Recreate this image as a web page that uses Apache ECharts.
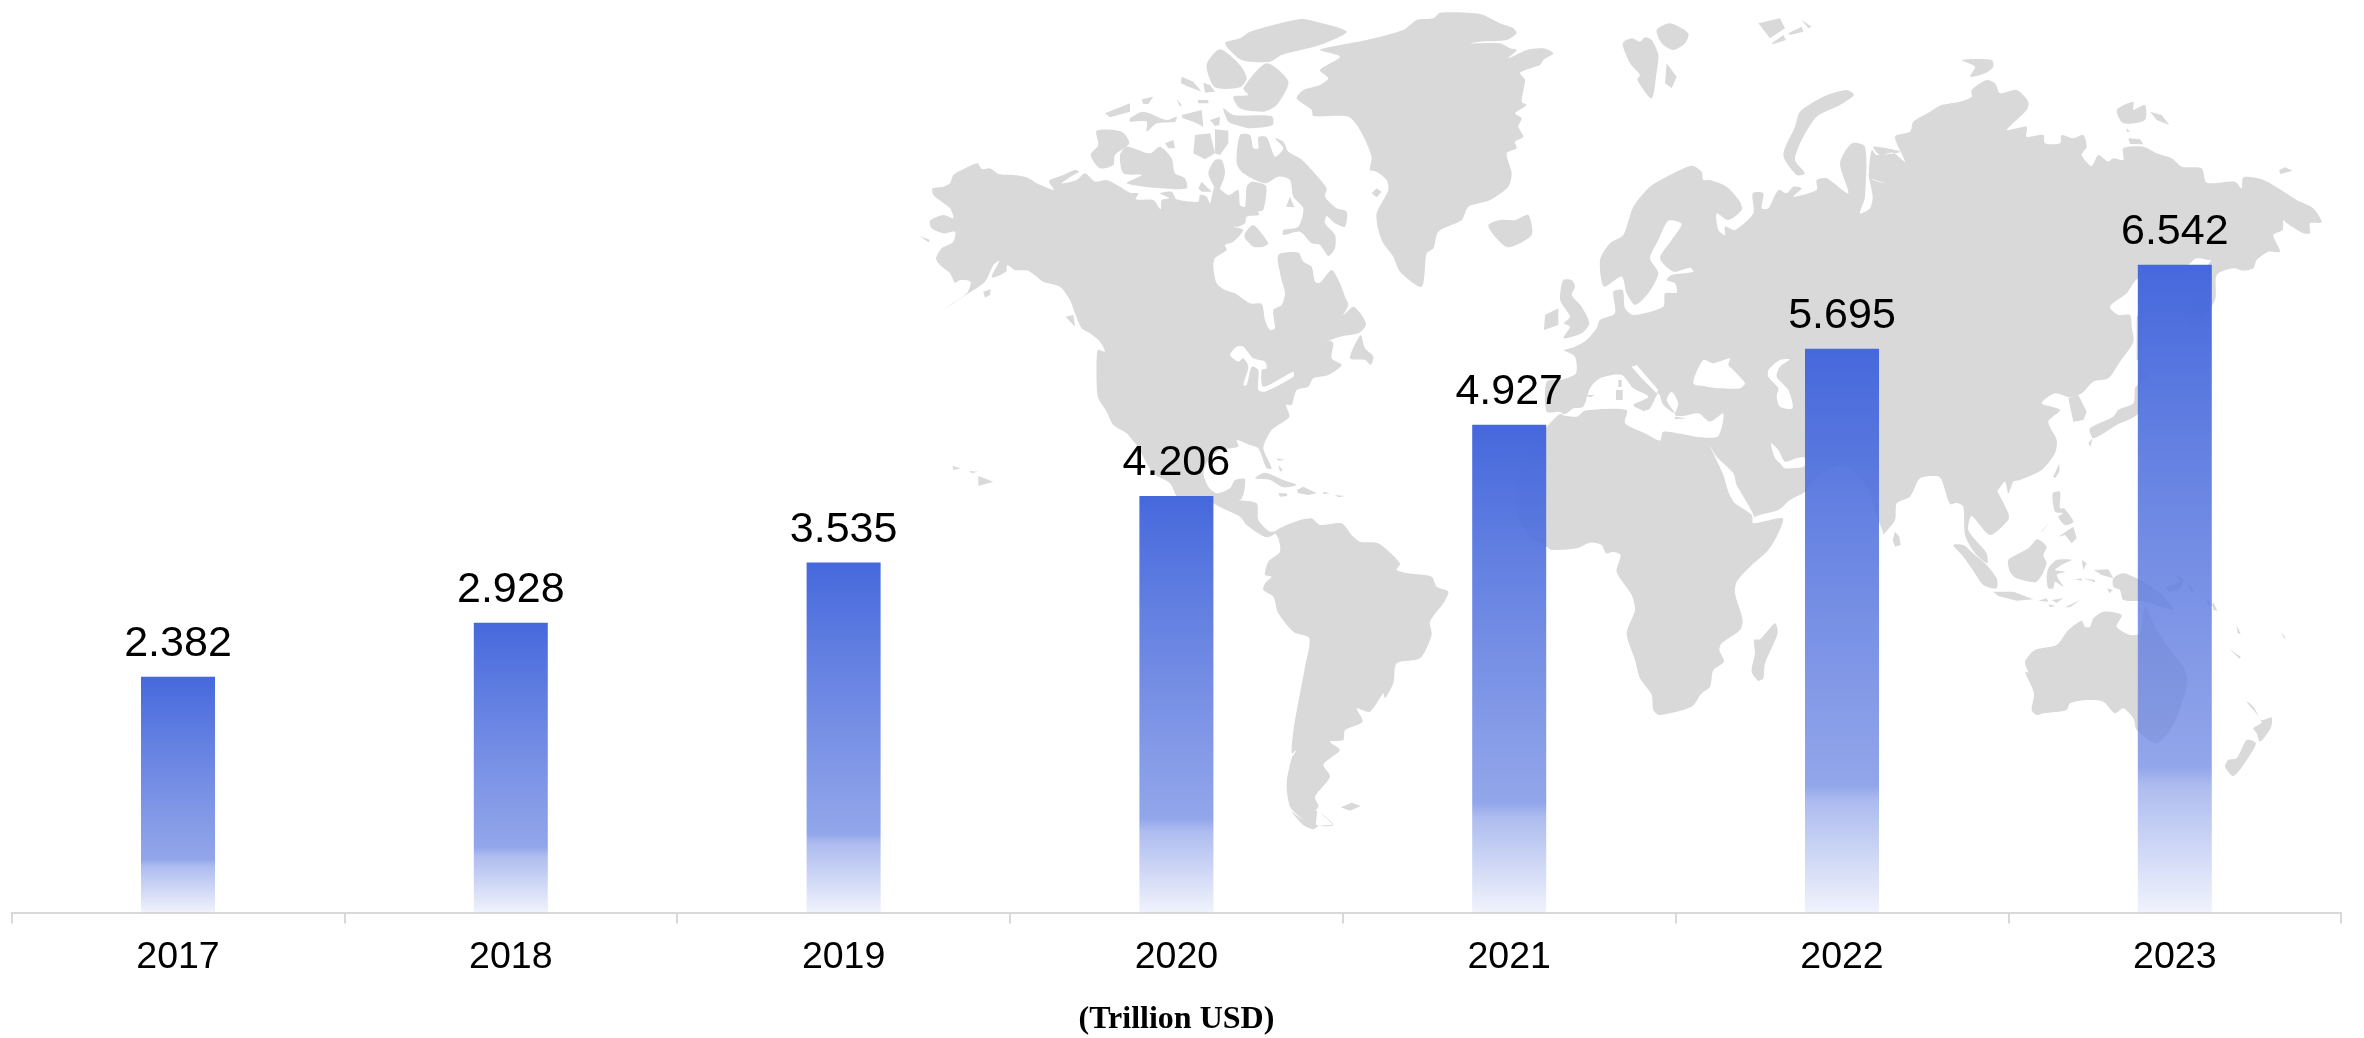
<!DOCTYPE html>
<html><head><meta charset="utf-8">
<style>html,body{margin:0;padding:0;background:#fff}#c{width:2364px;height:1038px}</style>
<script src="https://cdn.jsdelivr.net/npm/echarts@6/dist/echarts.min.js"></script>
</head><body><div id="c"></div>
<script>
const years = ['2017','2018','2019','2020','2021','2022','2023'];
const values = [2.382,2.928,3.535,4.206,4.927,5.695,6.542];
const axisName = '(Trillion USD)';

// decorative world-map backdrop, traced outlines (crop origin + 3x crop coordinates)
const F4=[900,0],F5=[950,400],F6=[1400,0],F7=[1450,350],F8=[1860,60],F9=[1900,480];
const seg=(f,s)=>s.trim().split(/\s+/).map(p=>{const [x,y]=p.split(',').map(Number);return [f[0]+x/3,f[1]+y/3];});
const land=[
 // North America
 seg(F4,`98,565 130,560 150,550 160,525 190,508 232,490 245,507 270,505 295,522 340,525 380,532 410,550 445,565 462,570 447,543 490,525 525,510 538,515 520,525 485,550 530,540 555,520 585,545 620,540 660,560 690,578 715,580 708,598 760,600 782,628 785,600 808,595 780,580 815,575 830,598 895,605 900,585 920,590 930,610 945,560 985,585 1015,570 1020,615 1035,620 1040,560 1055,545 1098,558 1090,630 1075,635 1078,645 1040,650 1035,670 1015,680 1000,680 1030,690 1000,725 975,735 980,750 945,775 940,800 950,850 975,870 1005,880 1050,910 1085,912 1095,960 1110,990 1125,985 1120,930 1145,915 1155,880 1145,840 1135,765 1195,758 1210,785 1235,800 1245,845 1260,848 1295,810 1320,850 1335,890 1345,915 1330,945 1360,920 1385,945 1398,975 1375,1000 1320,1010 1240,1040 1290,1022 1300,1030 1295,1075 1325,1095 1285,1125 1240,1135 1225,1160 1190,1170 1175,1215 1158,1215 1168,1250 1120,1285 1105,1305 1090,1345 1115,1405 1100,1405 1075,1345 1050,1335 1010,1320 1015,1340 960,1350 925,1380 910,1420 925,1460 950,1480 990,1465 1005,1440 1035,1438 1020,1500 840,1500 810,1450 760,1420 720,1350 708,1305 715,1340 680,1300 640,1275 620,1235 595,1195 590,1150 593,1050 615,1055 600,1025 570,1000 545,985 525,940 510,900 480,860 430,845 385,812 345,810 322,795 318,815 275,832 298,783 280,795 255,845 205,880 122,935 150,915 200,880 212,845 180,840 165,848 150,820 120,795 108,775 125,745 160,725 165,695 130,700 95,685 90,662 130,645 160,655 150,625 100,585`),
 seg(F4,`1350,1075 1382,1005 1395,1045 1420,1070 1412,1095 1395,1080`),
 seg(F4,`497,950 520,945 525,980`),
 seg(F4,`250,875 272,868 270,885 255,893`),
 seg(F4,`60,708 90,720 85,727`),
 seg(F4,`235,1428 280,1445 235,1458`),
 seg(F4,`158,1398 182,1405 160,1410`),
 seg(F4,`208,1413 235,1415 215,1420`),
 // Arctic Canada
 seg(F4,`1020,405 1050,405 1060,445 1075,445 1075,412 1100,412 1125,470 1150,445 1125,415 1150,425 1165,455 1200,475 1240,515 1280,565 1275,590 1310,625 1340,635 1335,680 1305,670 1280,648 1275,670 1305,705 1305,745 1285,768 1260,735 1235,730 1200,695 1150,705 1150,690 1195,680 1210,625 1180,590 1170,540 1135,530 1095,550 1030,520 1010,490`),
 seg(F4,`1035,700 1060,675 1105,730 1090,740 1060,740 1035,715`),
 seg(F4,`975,130 1020,115 1050,95 1200,57 1250,65 1340,95 1260,135 1145,165 1110,185 1025,180`),
 seg(F4,`960,148 1020,195 1040,235 1020,262 945,262 920,195`),
 seg(F4,`1030,265 1100,190 1165,245 1130,315 1090,335 1020,325 1000,290 1045,285`),
 seg(F4,`970,325 1000,345 1115,348 1118,375 1050,385 1010,375 985,365`),
 seg(F4,`590,392 665,395 688,430 645,465 640,495 600,505 572,465 595,435`),
 seg(F4,`660,465 680,440 750,460 780,440 815,475 825,520 855,535 860,565 780,565 680,550 725,525 670,520`),
 seg(F4,`690,355 730,335 800,360 830,350 825,365 770,370 740,395 740,365 690,365`),
 seg(F4,`615,340 690,310 690,335 630,352`),
 seg(F4,`725,298 760,290 745,312 730,312`),
 seg(F4,`845,345 905,330 910,380 880,365 848,355`),
 seg(F4,`930,360 960,350 958,375 945,378`),
 seg(F4,`885,405 930,400 945,460 915,478 880,460`),
 seg(F4,`945,388 985,392 985,430 960,465 945,460`),
 seg(F4,`925,520 945,480 965,480 975,520 955,575 945,565`),
 seg(F4,`895,565 905,545 935,575 905,575`),
 seg(F4,`795,430 820,420 825,445 805,445`),
 seg(F4,`845,230 880,245 905,275 860,258 843,250`),
 seg(F4,`910,248 930,255 945,275 915,278`),
 seg(F4,`893,300 925,300 925,310 895,310`),
 seg(F4,`830,298 845,315 840,320`),
 // Greenland, Iceland, Svalbard, etc.
 seg(F6,`10,90 50,60 100,55 120,38 240,42 300,70 340,85 350,100 320,120 240,125 210,130 300,130 330,145 350,150 325,175 380,150 430,145 460,160 430,180 420,195 360,218 375,240 365,305 380,315 345,340 365,355 355,380 370,410 345,425 350,445 320,460 335,520 325,560 270,600 205,620 185,660 115,695 100,745 80,760 65,860 0,815 -20,770 -50,730 -65,690 -70,640 -35,570 -40,540 -70,515 -90,510 -85,470 -120,390 -155,350 -260,348 -265,330 -310,295 -290,270 -240,255 -215,235 -240,210 -180,170 -240,150 -180,135 -100,120`),
 seg(F4,`1415,580 1430,565 1445,575 1430,592`),
 seg(F6,`265,675 300,660 345,660 385,645 395,705 325,742 285,710`),
 seg(F6,`668,130 695,115 720,125 735,112 755,120 775,165 770,215 755,295 712,240 720,225 690,190`),
 seg(F6,`770,90 810,70 865,100 855,130 820,150 785,130`),
 seg(F6,`800,190 830,230 815,265 795,250`),
 seg(F6,`1075,70 1140,55 1155,85 1110,115`),
 seg(F6,`1165,100 1205,80 1210,95 1170,105`),
 seg(F6,`1115,130 1150,105 1158,120 1120,132`),
 seg(F6,`1205,60 1235,80 1225,85`),
 seg(F6,`1150,465 1185,380 1200,335 1270,290 1340,270 1362,285 1320,315 1250,350 1205,420 1185,480 1215,520 1190,525`),
 seg(F6,`480,885 490,840 515,840 525,860 515,885 545,920 568,970 545,1000 490,1015 510,980 492,970 510,950 482,905`),
 seg(F6,`435,945 475,925 475,975 432,990`),
 // Eurasia + Africa outer outline
 [...seg(F6,`490,1050 525,1040 560,1020 590,985 600,960 645,940 640,875 668,870 675,925 700,945 790,920 795,880 830,878 825,850 800,840 815,825 880,815 870,803 820,815 780,775 815,720 845,672 805,662 775,720 750,775 775,820 745,880 705,915 680,880 665,830 612,860 600,780 630,730 670,705 700,620 750,560 810,525 875,497 905,515 910,540 930,540 980,560 1020,605 1025,630 985,660 950,640 955,690 975,705 975,680 1005,690 1060,640 1058,580 1090,580 1085,625 1105,625 1135,570 1160,580 1180,560 1205,565 1180,590 1250,570 1250,540 1280,535 1345,580 1320,490 1355,430 1395,440 1395,590 1380,640 1410,625 1418,590 1405,520 1420,540 1460,550 1410,530 1415,450 1430,465 1500,455`),
  ...seg(F8,`40,260 60,285 100,278 135,305 105,230 150,215 160,185 210,155 245,135 300,125 335,110 335,90 380,60 405,70 420,100 470,90 505,125 500,150 440,210 470,205 500,200 500,230 550,225 555,250 600,250 605,225 640,235 670,225 680,260 665,285 695,318 715,285 745,305 760,295 790,300 790,265 850,260 890,280 935,295 965,320 1025,325 1040,368 1125,365 1145,385 1150,352 1205,358 1255,385 1310,420 1360,445 1385,487 1350,490 1350,520 1330,520 1280,490 1270,480 1268,510 1240,525 1260,575 1225,575 1190,600 1180,625 1150,632 1120,625 1070,645 1065,720 1000,810 975,770 1020,700 1040,620 1080,572 1060,600 1010,595 985,615 960,640 835,655 800,700 750,740 775,765 810,765 815,800 820,845 780,905 745,955 700,965 665,1000 630,1012 585,1000 545,1030 600,1050 565,1085 590,1140 585,1180 545,1230 480,1260 460,1265 445,1300 435,1265 410,1295`),
  ...seg(F9,`290,30 325,100 325,120 270,165 215,108 205,150 240,195 260,220 262,250 225,220 195,165 190,80 170,68 150,72 125,0`),
  ...seg(F8,`232,1248 180,1255 150,1310 110,1330 105,1380 70,1425`),
  ...seg(F7,`1302,555 1285,510 1245,400 1180,345 1100,380 1065,425 1020,450 985,480 915,500 910,520 998,505 985,550 955,600 900,650 860,695 855,730 878,810 870,840 815,880 808,900 822,935 790,960 780,1010 755,1030 725,1070 628,1095 610,1080 605,1035 570,985 555,930 530,850 555,780 545,735 500,665 512,615 490,605 468,610 455,585 420,578 380,595 305,600 290,590 240,560 200,490 205,380 290,232 325,195 340,190 325,185 290,185 290,95 340,88 378,70 375,20 340,0`)],
 seg(F8,`625,1015 655,1005 680,1055 670,1080 640,1085`),
 // Africa / Asia islands
 seg(F7,`912,870 930,868 975,820 983,850 945,940 940,985 925,992 905,965 915,910`),
 seg(F7,`1335,545 1348,560 1352,585 1335,590 1328,570`),
 seg(F8,`580,1250 598,1210 598,1235 585,1255`),
 seg(F8,`690,1105 760,1070 775,1050 820,1030 825,985 835,975 835,1060 770,1095 700,1135`),
 seg(F8,`685,1150 697,1135 692,1160`),
 seg(F8,`835,905 870,950 835,975`),
 seg(F8,`830,770 850,740 840,900 830,900`),
 seg(F8,`770,150 820,125 820,150 855,135 855,180 790,190`),
 seg(F8,`870,155 905,165 928,195 890,180`),
 seg(F8,`800,205 810,215 800,215`),
 seg(F8,`805,235 840,238 850,253 810,252`),
 seg(F8,`1258,330 1275,322 1298,332 1260,342`),
 seg(F8,`305,0 395,0 400,20 375,40 330,50 345,20`),
 seg(F9,`458,40 480,35 480,85 492,85 520,125 495,135 475,110 490,100 465,95`),
 seg(F9,`475,170 520,140 530,175 515,190 495,165`),
 seg(F9,`420,158 450,125 430,150`),
 seg(F9,`160,195 190,195 225,225 255,250 290,295 290,325 250,315 215,265 190,230`),
 seg(F9,`280,335 340,335 400,358 350,362 295,348`),
 seg(F9,`325,240 385,205 412,178 440,200 430,225 440,250 410,305 350,295 330,275`),
 seg(F9,`445,265 470,240 515,240 490,252 465,270 495,275 470,285 490,320 465,305 460,325 445,325 440,295`),
 seg(F9,`640,295 670,280 720,300 780,340 820,388 780,380 740,365 670,360 660,330 640,320`),
 seg(F9,`582,270 625,268 640,295 605,285`),
 seg(F9,`545,240 560,250 550,270`),
 seg(F9,`415,362 440,355 445,365`),
 seg(F9,`455,360 490,355 470,368`),
 seg(F9,`495,382 540,360 510,382`),
 seg(F9,`445,372 465,378 450,382`),
 seg(F9,`525,298 545,295 545,302`),
 seg(F9,`550,295 585,300 585,307`),
 seg(F9,`622,325 638,330 628,340`),
 seg(F9,`795,322 840,305 825,285 850,300 840,325 810,335`),
 seg(F9,`865,310 885,340 870,330`),
 seg(F9,`910,350 945,380 925,375`),
 seg(F9,`938,362 952,392 940,390`),
 seg(F9,`1010,436 1022,462 1013,460`),
 seg(F9,`1145,455 1158,478 1150,472`),
 seg(F9,`988,507 1022,530 1020,537`),
 // Australia, New Zealand
 seg(F9,`375,545 405,510 470,495 505,450 545,422 555,440 570,440 580,415 610,395 665,405 650,440 690,465 720,460 735,380 770,450 810,510 850,560 862,610 820,735 770,790 710,750 700,715 670,685 645,700 610,665 560,660 510,670 500,690 430,700 410,705 395,690 402,640 375,575 385,578`),
 seg(F9,`975,860 985,840 1010,835 1040,780 1068,790 1030,855 1000,888`),
 seg(F9,`1040,665 1060,680 1085,720 1115,712 1112,745 1080,785 1070,760 1060,745 1085,725`),
 // Caribbean, Central + South America
 seg(F5,`915,235 945,218 1000,240 1040,255 1000,262 960,240`),
 seg(F5,`1040,270 1060,260 1100,280 1075,285 1045,280`),
 seg(F5,`985,280 1010,280 1012,288 990,290`),
 seg(F5,`1120,275 1140,280 1120,282`),
 seg(F5,`1155,285 1185,288 1165,292`),
 seg(F5,`980,175 1005,180 985,182`),
 seg(F5,`985,195 998,210 990,215`),
 seg(F5,`790,290 860,300 920,310 925,360 960,395 990,390 950,412 890,375 870,350 790,310`),
 seg(F5,`975,395 1010,375 1060,358 1085,355 1110,375 1175,370 1205,405 1230,425 1285,430 1350,490 1340,510 1375,520 1445,530 1460,560 1495,575 1480,610 1440,665 1445,705 1410,775 1340,790 1330,850 1305,895 1300,880 1260,935 1220,925 1238,965 1185,990 1180,1020 1140,1025 1170,1050 1140,1075 1120,1095 1140,1130 1095,1190 1105,1220 1070,1255 1100,1232 1100,1275 1150,1275 1105,1235 1150,1272 1105,1278 1090,1288 1060,1275 1025,1235 1060,1260 1020,1220 1010,1150 1025,1075 1040,1050 1025,1060 1032,980 1065,800 1078,715 1030,695 985,640 970,590 940,570 945,550 965,530 945,525 955,485 990,455 985,415`),
 seg(F5,`1172,1222 1205,1208 1232,1218 1200,1232`)
];
const water=[
 seg(F4,`990,1065 1010,1040 1030,1040 1060,1075 1095,1085 1100,1105 1085,1110 1090,1160 1180,1115 1180,1130 1095,1175 1075,1170 1075,1110 1055,1100 1040,1155 1030,1155 1045,1100 1030,1075 1015,1085`),
 seg(F6,`485,1245 530,1250 555,1232 680,1230 675,1270 735,1300 780,1322 790,1295 900,1312 955,1308 970,1240 930,1265 895,1240 850,1248 825,1245 835,1210 815,1175 800,1200 825,1240 790,1215 775,1180 745,1230 700,1215 745,1190 700,1165 665,1125 600,1135 570,1165 550,1220 520,1225 500,1240`),
 seg(F6,`695,1100 710,1095 775,1170 770,1180 725,1135`),
 seg(F6,`880,1150 910,1080 940,1090 990,1075 985,1095 1000,1110 1035,1150 1020,1165 960,1165 920,1160`),
 seg(F6,`1105,1110 1140,1080 1170,1078 1140,1100 1130,1130 1165,1170 1178,1225 1140,1220 1130,1190 1135,1165 1105,1130`),
 seg(F7,`778,285 800,320 850,370 860,405 895,465 912,500 908,520 905,495 855,460 835,425 820,375 790,310`),
 seg(F7,`963,280 985,300 1005,335 1040,325 1062,322 1065,345 1055,352 1005,355 990,340 975,325`)
];
const landTop=[
 seg(F4,`1158,620 1170,590 1183,622`),
 seg(F6,`648,1170 668,1170 668,1200 648,1200`),
 seg(F6,`655,1140 665,1140 665,1160 655,1162`),
 seg(F6,`700,1218 735,1208 735,1235`),
 seg(F6,`825,1250 860,1255 825,1258`),
 seg(F6,`555,1185 585,1185 570,1192`)
];
const poly=(p,fill)=>({type:'polygon',z:0,silent:true,shape:{points:p,smooth:p.length>5?0.25:0},style:{fill}});
const mapShapes=[...land.map(p=>poly(p,'#d9d9d9')),...water.map(p=>poly(p,'#ffffff')),...landTop.map(p=>poly(p,'#d9d9d9'))];

const chart=echarts.init(document.getElementById('c'),null,{renderer:'canvas'});
chart.setOption({
 animation:false,
 backgroundColor:'#ffffff',
 graphic:{elements:mapShapes},
 grid:{left:11.6,top:21.5,width:2329.6,height:891,outerBoundsMode:'none',containLabel:false},
 xAxis:{type:'category',data:years,
  axisLine:{lineStyle:{color:'#d9d9d9',width:2}},
  axisTick:{show:true,length:11,lineStyle:{color:'#d9d9d9',width:2}},
  axisLabel:{color:'#000',fontFamily:'Liberation Sans',fontSize:37.5,margin:26},
  name:axisName,nameLocation:'middle',nameGap:91,
  nameTextStyle:{color:'#000',fontFamily:'Liberation Serif',fontWeight:'bold',fontSize:32}},
 yAxis:{type:'value',min:0,max:9,show:false,splitLine:{show:false}},
 series:[{type:'bar',data:values,barWidth:74,z:2,
  itemStyle:{color:{type:'linear',x:0,y:0,x2:0,y2:1,colorStops:[
   {offset:0,color:'rgba(69,104,220,1)'},
   {offset:0.775,color:'rgba(110,136,227,0.75)'},
   {offset:0.805,color:'rgba(110,136,227,0.56)'},
   {offset:1,color:'rgba(110,136,227,0.1)'}]}},
  label:{show:true,position:'top',distance:11,color:'#000',fontFamily:'Liberation Sans',fontSize:43,
   formatter:p=>p.value.toFixed(3)}}]
});
</script></body></html>
